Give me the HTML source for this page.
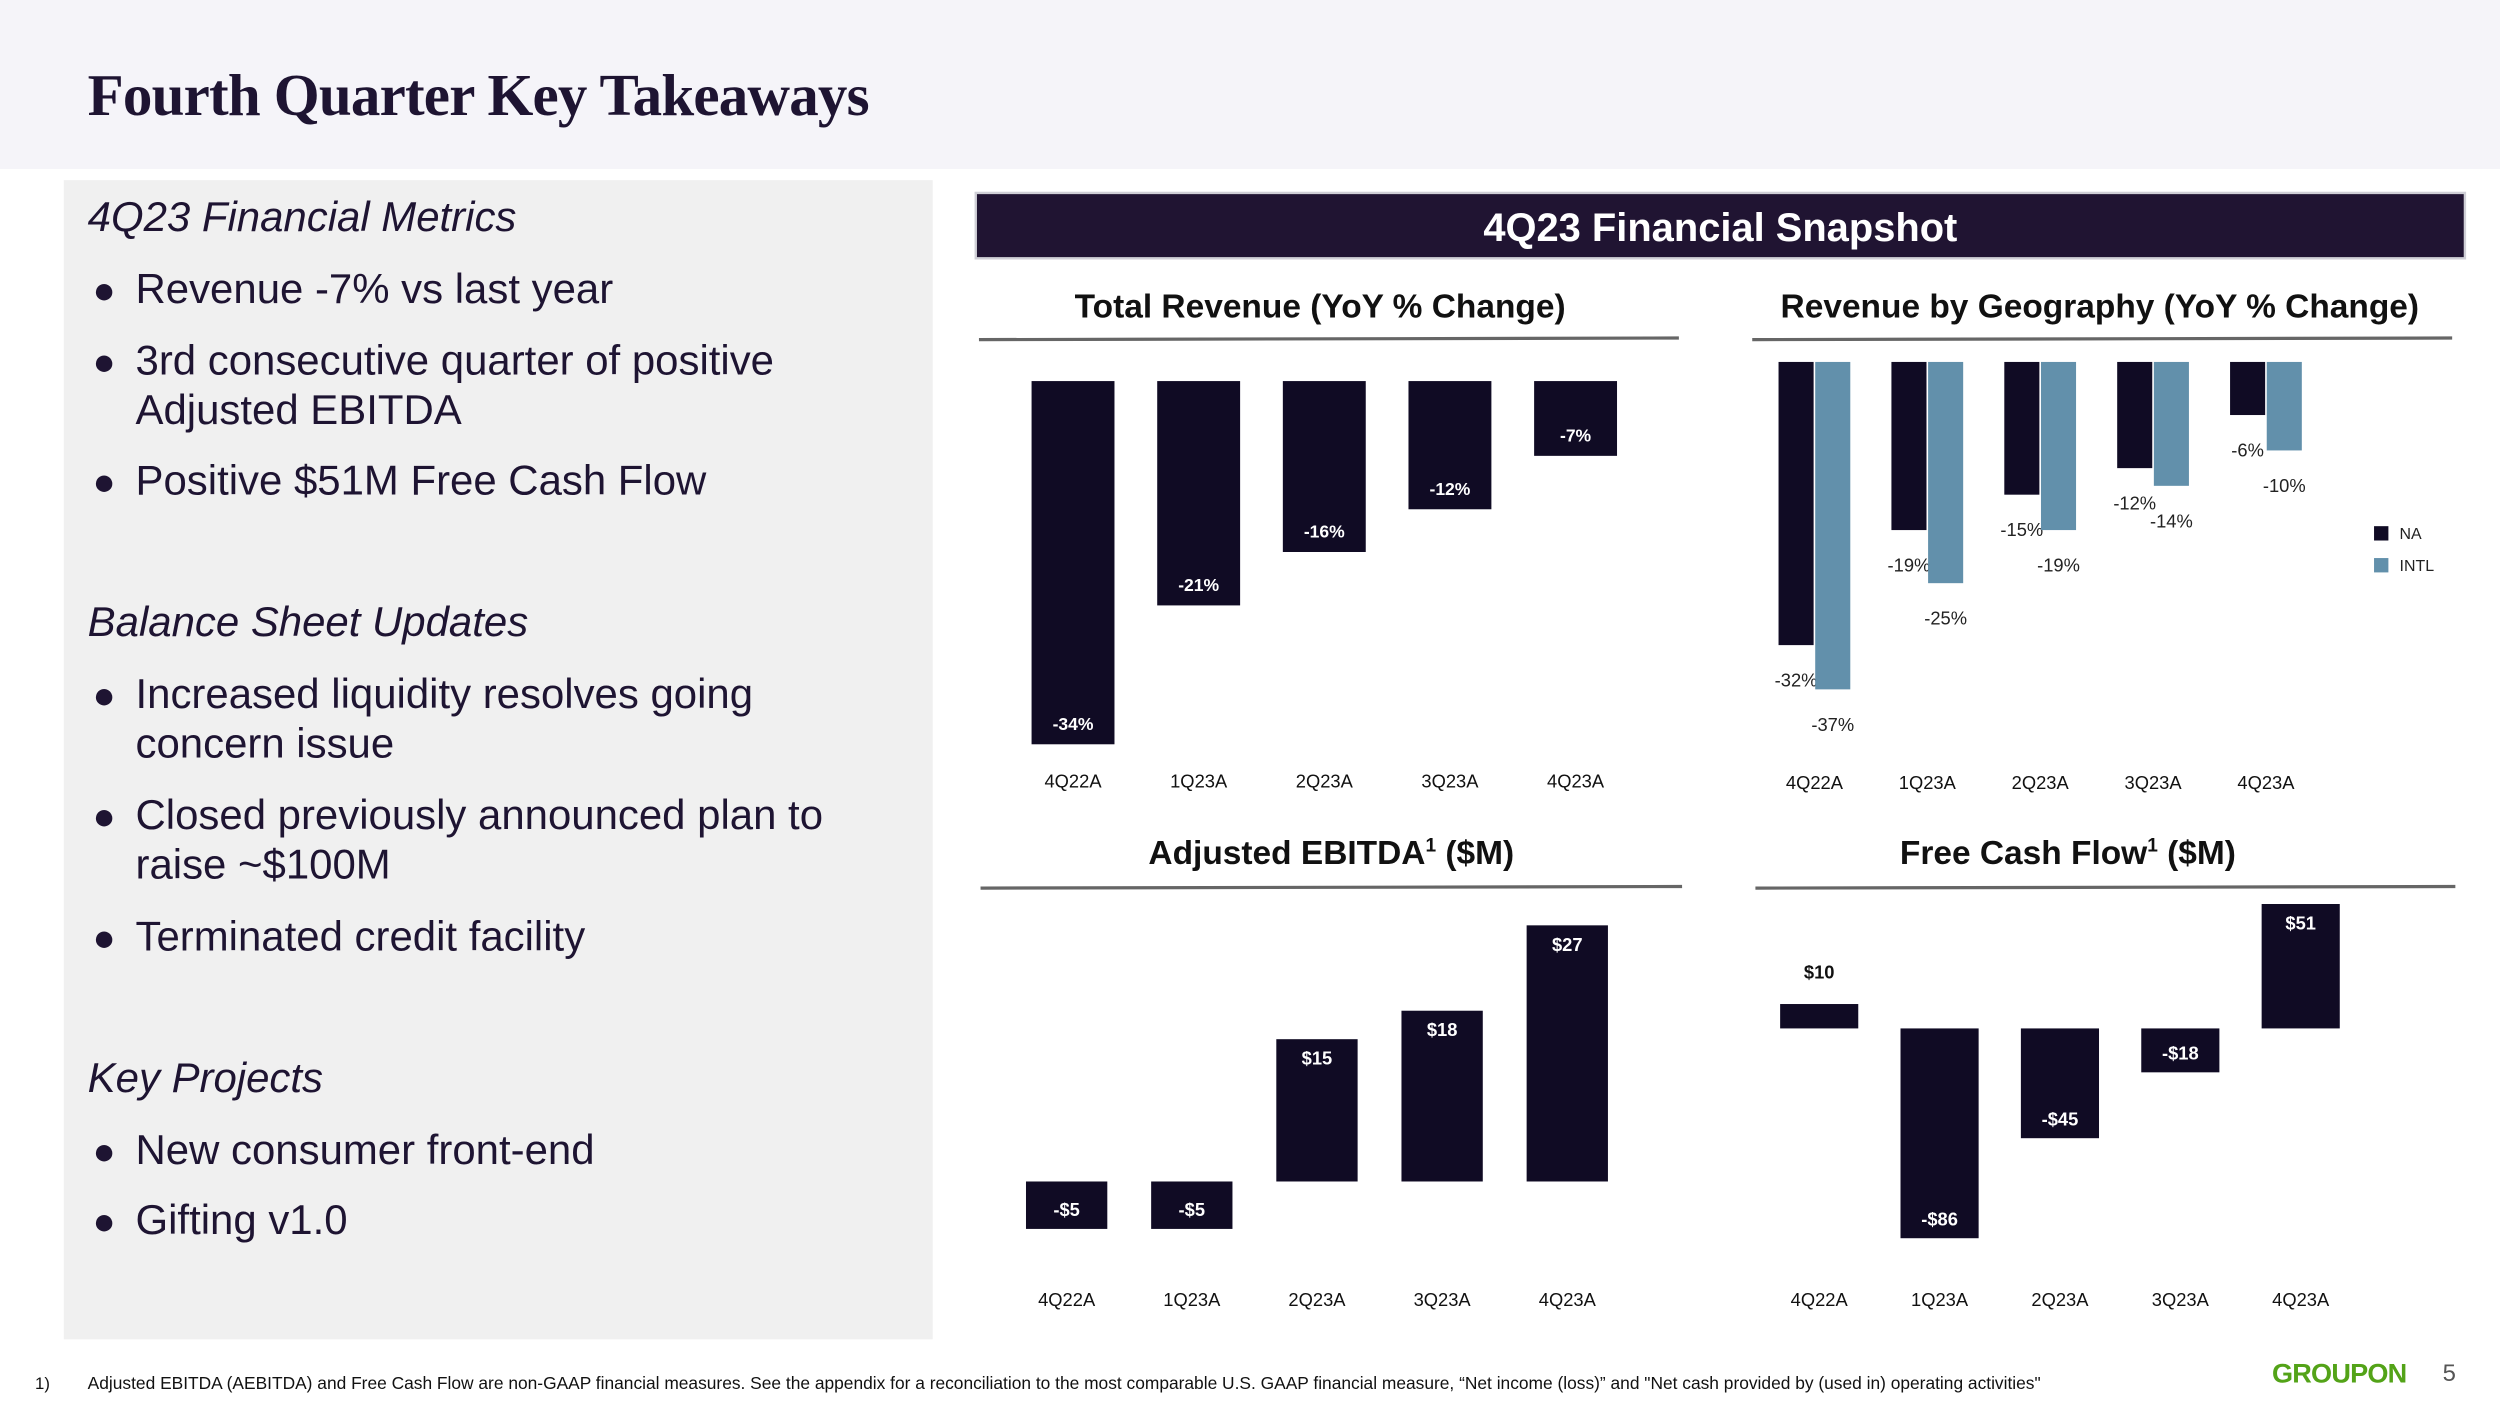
<!DOCTYPE html>
<html><head><meta charset="utf-8"><style>
html,body{margin:0;padding:0;background:#fff;}
svg{display:block;font-family:"Liberation Sans",sans-serif;}
</style></head><body>
<svg id="s" width="2500" height="1402" viewBox="0 0 1568 879.3" preserveAspectRatio="none" xmlns="http://www.w3.org/2000/svg">
<rect x="0" y="0" width="1568" height="106" fill="#f5f4f9"/>
<text x="55" y="72" font-family="Liberation Serif,serif" font-weight="bold" font-size="37" fill="#1e1432" letter-spacing="-0.5">Fourth Quarter Key Takeaways</text>
<rect x="40" y="113" width="545" height="727" fill="#f0f0f0"/>
<g font-size="26.3" fill="#1e1432">
<text x="55" y="145" font-style="italic">4Q23 Financial Metrics</text>
<text x="58" y="190" font-size="24">●</text><text x="85" y="190">Revenue -7% vs last year</text>
<text x="58" y="235" font-size="24">●</text><text x="85" y="235">3rd consecutive quarter of positive</text>
<text x="85" y="266">Adjusted EBITDA</text>
<text x="58" y="310" font-size="24">●</text><text x="85" y="310">Positive $51M Free Cash Flow</text>
<text x="55" y="399" font-style="italic">Balance Sheet Updates</text>
<text x="58" y="444" font-size="24">●</text><text x="85" y="444">Increased liquidity resolves going</text>
<text x="85" y="475">concern issue</text>
<text x="58" y="520" font-size="24">●</text><text x="85" y="520">Closed previously announced plan to</text>
<text x="85" y="551">raise ~$100M</text>
<text x="58" y="596" font-size="24">●</text><text x="85" y="596">Terminated credit facility</text>
<text x="55" y="685" font-style="italic">Key Projects</text>
<text x="58" y="730" font-size="24">●</text><text x="85" y="730">New consumer front-end</text>
<text x="58" y="774" font-size="24">●</text><text x="85" y="774">Gifting v1.0</text>
</g>
<rect x="612" y="121" width="934" height="41" fill="#201432" stroke="#cfcfd6" stroke-width="1.5"/>
<text x="1079" y="151" text-anchor="middle" font-weight="bold" font-size="25" fill="#fff">4Q23 Financial Snapshot</text>
<g font-weight="bold" font-size="21" fill="#111" text-anchor="middle">
<text x="828" y="199">Total Revenue (YoY % Change)</text>
<text x="1317" y="199">Revenue by Geography (YoY % Change)</text>
<text x="835" y="542">Adjusted EBITDA<tspan font-size="12" dy="-8">1</tspan><tspan dy="8"> ($M)</tspan></text>
<text x="1297" y="542">Free Cash Flow<tspan font-size="12" dy="-8">1</tspan><tspan dy="8"> ($M)</tspan></text>
</g>
<g stroke="#666" stroke-width="2">
<line x1="614" y1="213" x2="1053" y2="212"/>
<line x1="1099" y1="213" x2="1538" y2="212"/>
<line x1="615" y1="557" x2="1055" y2="556"/>
<line x1="1101" y1="557" x2="1540" y2="556"/>
</g>
<g id="charts"></g>
<rect x="1489" y="330" width="9" height="9" fill="#100b24"/>
<text x="1505" y="338" font-size="10" fill="#222">NA</text>
<rect x="1489" y="350" width="9" height="9" fill="#6290ab"/>
<text x="1505" y="358" font-size="10" fill="#222">INTL</text>
<text x="22" y="871" font-size="10.5" fill="#111">1)</text>
<text x="55" y="871" font-size="10.9" fill="#111">Adjusted EBITDA (AEBITDA) and Free Cash Flow are non-GAAP financial measures. See the appendix for a reconciliation to the most comparable U.S. GAAP financial measure, “Net income (loss)” and "Net cash provided by (used in) operating activities"</text>
<text x="1425" y="867" font-weight="bold" font-size="17" fill="#53a318" letter-spacing="-0.5">GROUPON</text>
<text x="1532" y="866" font-size="15" fill="#555">5</text>
</svg>
<script>
const quarters = ["4Q22A","1Q23A","2Q23A","3Q23A","4Q23A"];
const totalRevenue = [-34,-21,-16,-12,-7];
const naRevenue = [-32,-19,-15,-12,-6];
const intlRevenue = [-37,-25,-19,-14,-10];
const ebitda = [-5,-5,15,18,27];
const fcf = [10,-86,-45,-18,51];

const NS="http://www.w3.org/2000/svg";
const g=document.getElementById('charts');
function mk(tag,attrs,txt){const e=document.createElementNS(NS,tag);for(const k in attrs)e.setAttribute(k,attrs[k]);if(txt!==undefined)e.textContent=txt;g.appendChild(e);return e;}
const DARK="#100b24", BLUE="#6290ab";

(function(){
  const x=i=>673+i*78.8, y=v=>239-v*6.7, w=52;
  totalRevenue.forEach((v,i)=>{
    const r=mk('rect',{x:x(i)-w/2,y:239,width:w,height:y(v)-239,fill:DARK});
    
    
    const t=mk('text',{x:x(i),y:y(v)-9,'text-anchor':'middle','font-size':11,'font-weight':'bold',fill:'#fff'},v+'%');
    
    
    const c=mk('text',{x:x(i),y:494,'text-anchor':'middle','font-size':11.5,fill:'#111'},quarters[i]);
    
    
  });
})();
(function(){
  const x=i=>1138+i*70.8, y=v=>227-v*5.55, w=22;
  quarters.forEach((q,i)=>{
    [[naRevenue,DARK,-11.5,'na'],[intlRevenue,BLUE,11.5,'intl']].forEach(([arr,col,off,nm])=>{
      const v=arr[i], cx=x(i)+off;
      const r=mk('rect',{x:cx-w/2,y:227,width:w,height:y(v)-227,fill:col});
      
      
      const t=mk('text',{x:cx,y:y(v)+26,'text-anchor':'middle','font-size':11.5,fill:'#222'},v+'%');
      
      
    });
    const c=mk('text',{x:x(i),y:495,'text-anchor':'middle','font-size':11.5,fill:'#111'},q);
    
    
  });
})();
function signed(arr,cx0,step,base,k,w,catY,nm){
  const x=i=>cx0+i*step, y=v=>base-v*k;
  arr.forEach((v,i)=>{
    const top=Math.min(base,y(v)), h=Math.abs(y(v)-base);
    const r=mk('rect',{x:x(i)-w/2,y:top,width:w,height:h,fill:DARK});
    
    
    const lbl=(v<0?'-$':'$')+Math.abs(v);
    let ty,col='#fff';
    if(v<0){ty=y(v)-8;}
    else if(h>30){ty=y(v)+16;}
    else{ty=y(v)-16;col='#111';}
    const t=mk('text',{x:x(i),y:ty,'text-anchor':'middle','font-size':11.5,'font-weight':'bold',fill:col},lbl);
    
    
    const c=mk('text',{x:x(i),y:catY,'text-anchor':'middle','font-size':11.5,fill:'#111'},quarters[i]);
    
    
  });
}
signed(ebitda,669,78.5,741,5.95,51,819,'ebitda');
signed(fcf,1141,75.5,645,1.53,49,819,'fcf');
</script>
</body></html>
